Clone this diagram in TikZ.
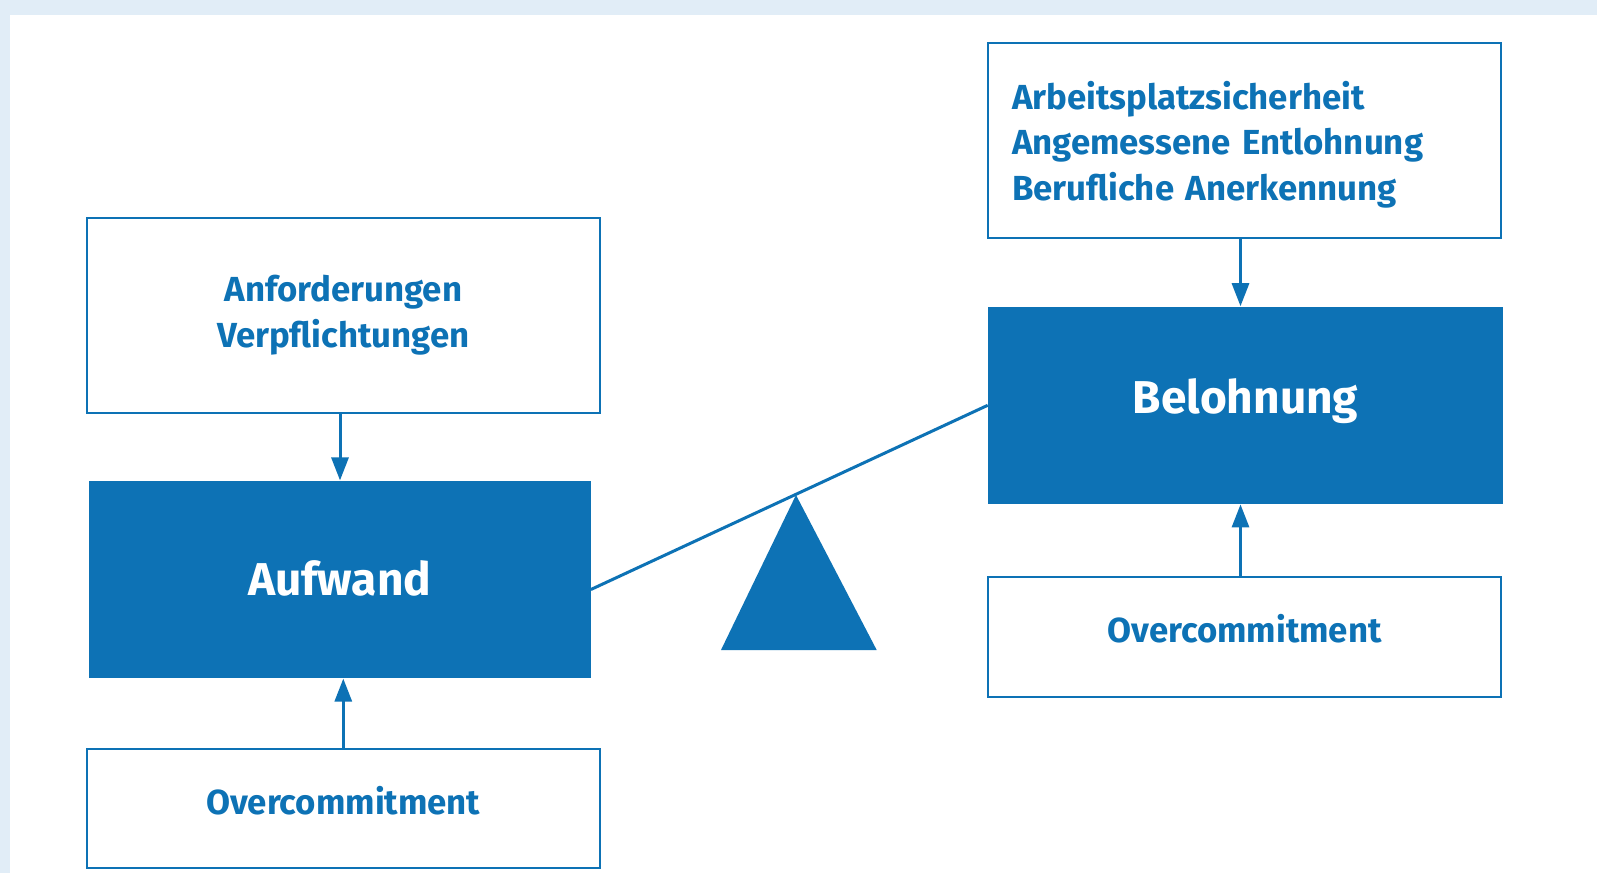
\documentclass[tikz,border=0pt]{standalone}
\usepackage{fontspec}
\setmainfont{Fira Sans}
\usetikzlibrary{arrows.meta}
\definecolor{eriblue}{RGB}{13,114,181}
\definecolor{eribg}{RGB}{225,237,247}

\begin{document}
\begin{tikzpicture}[x=0.02cm,y=-0.02cm]
\tikzstyle{lightbox}=[rectangle,draw=eriblue,line width=0.04cm,fill=white,text=eriblue,inner sep=0pt,align=center,font=\fontsize{19.8}{26}\selectfont\bfseries]
\tikzstyle{heavybox}=[rectangle,fill=eriblue,text=white,inner sep=0pt,font=\fontsize{26.2}{30}\selectfont\bfseries]
\tikzstyle{arr}=[draw=eriblue,line width=0.06cm,-{Triangle[length=0.46cm,width=0.34cm]}]
% page and panel
\fill[eribg] (0,0) rectangle (1597,873);
\fill[white] (10,15) rectangle (1597,873);
% effort side
\node [lightbox,minimum width=10.27cm,minimum height=3.89cm] (anf) at (343.3,315.3) {Anforderungen\\Verpflichtungen};
\node [heavybox,minimum width=10.04cm,minimum height=3.95cm,text depth=2pt] (aufwand) at (339.6,579.5) {Aufwand};
\node [lightbox,minimum width=10.27cm,minimum height=2.38cm,text depth=9pt] (over1) at (343.3,808) {Overcommitment};
% reward side
\node [lightbox,text width=9.3cm,inner xsep=0.48cm,align=left,minimum height=3.91cm] (items) at (1244.5,140.3) {\rule{0pt}{21pt}Arbeitsplatzsicherheit\\Angemessene Entlohnung\\Berufliche Anerkennung};
\node [heavybox,minimum width=10.3cm,minimum height=3.95cm,text depth=10pt] (bel) at (1245.5,405.3) {Belohnung};
\node [lightbox,minimum width=10.26cm,minimum height=2.40cm,text depth=9pt] (over2) at (1244.5,636.6) {Overcommitment};
% arrows
\draw[arr] ([xshift=-0.066cm]anf.south) -- ([xshift=-0.066cm]anf.south |- aufwand.north);
\draw[arr] (over1.north) -- (over1.north |- aufwand.south);
\draw[arr] ([xshift=-0.08cm]items.south) -- ([xshift=-0.08cm]items.south |- bel.north);
\draw[arr] ([xshift=-0.08cm]over2.north) -- ([xshift=-0.08cm]over2.north |- bel.south);
% balance
\draw[eriblue,line width=0.06cm] ([yshift=-0.2cm]aufwand.east) -- (bel.west);
\fill[eriblue] (796,495) -- (876.7,650) -- (721,650) -- cycle;
\end{tikzpicture}
\end{document}
